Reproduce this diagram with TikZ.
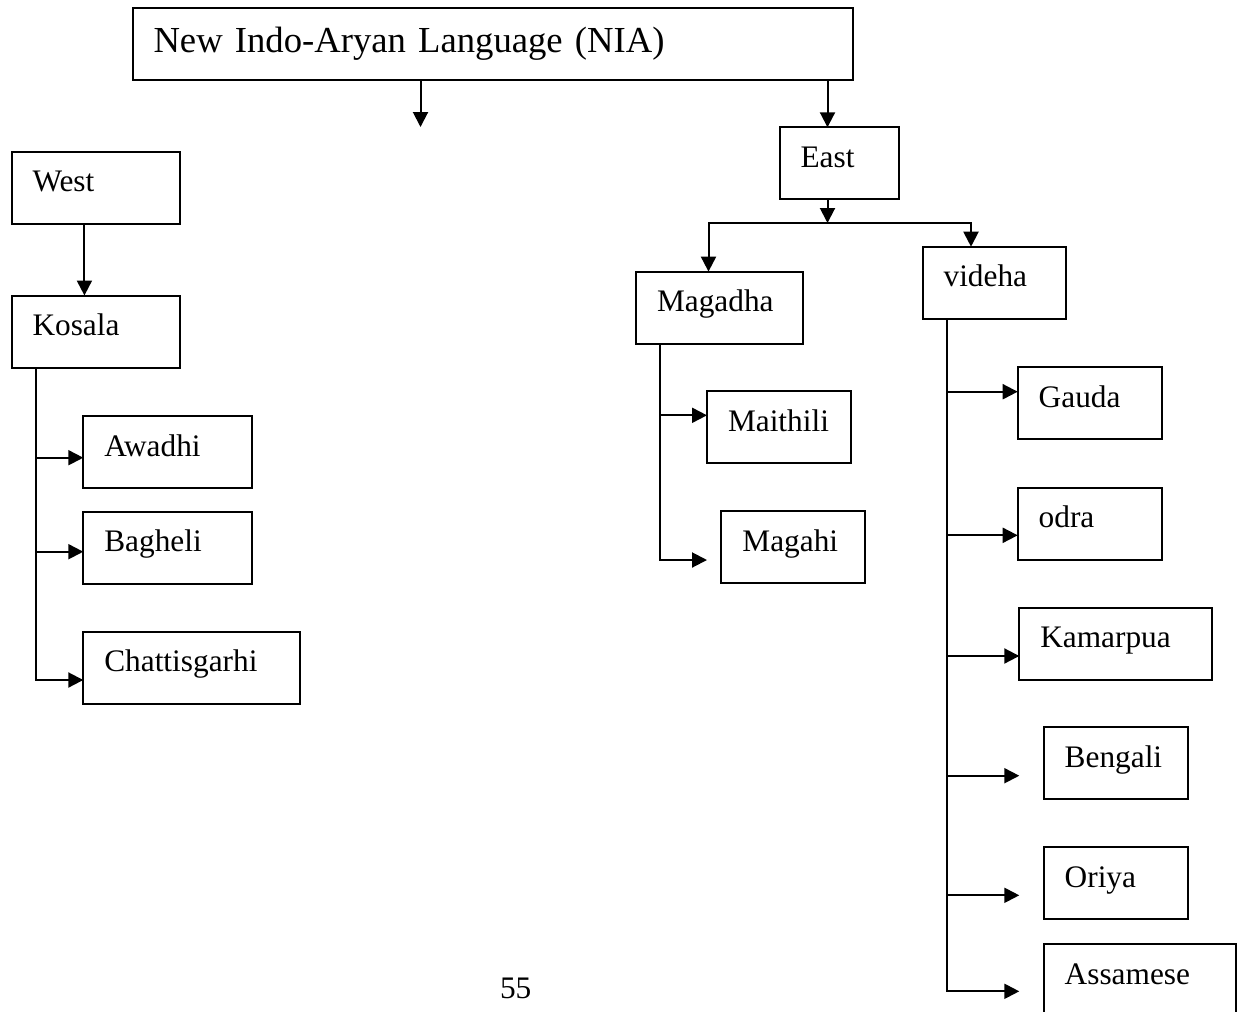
\documentclass[tikz,border=0pt]{standalone}
\usepackage{fontspec}
\setmainfont{Liberation Serif}
\usetikzlibrary{arrows.meta}

\tikzset{every picture/.style={line width=1.5pt}}
\tikzset{
  lang/.style={draw, anchor=north west, outer sep=0pt, inner xsep=15.75pt, inner ysep=0pt,
    minimum height=54pt, text width=#1, align=left, text height=18pt, text depth=12pt,
    font=\fontsize{23.5}{28}\selectfont},
  arr/.style={-{Triangle[length=11.25pt,width=11.25pt]}}
}

\begin{document}
\begin{tikzpicture}[x=0.75pt,y=0.75pt,yscale=-1,xscale=1]
\useasboundingbox (0,0) rectangle (1248,1011);

% Text Node
\node[lang=508.5pt, text height=22pt, text depth=8.8pt, font=\fontsize{27.5}{33}\selectfont] (nia) at (132.5,7.5) {New Indo-Aryan Language (NIA)};
% Text Node
\node[lang=94.7pt] (west) at (11.5,151.7) {West};
\node[lang=94.7pt] (kosala) at (11.5,295.5) {Kosala};
\node[lang=94.7pt] (awadhi) at (83.3,416) {Awadhi};
\node[lang=94.7pt] (bagheli) at (83.3,511.7) {Bagheli};
\node[lang=131pt] (chattis) at (83.3,631.7) {Chattisgarhi};
% Text Node
\node[lang=58.1pt] (east) at (779.5,127.3) {East};
\node[lang=94.1pt] (magadha) at (636,271.6) {Magadha};
\node[lang=76pt] (videha) at (922.6,246.7) {videha};
\node[lang=76.5pt] (maithili) at (707,391.3) {Maithili};
\node[lang=76.5pt] (magahi) at (721.4,511.3) {Magahi};
\node[lang=76.5pt] (gauda) at (1017.7,367.3) {Gauda};
\node[lang=76.5pt] (odra) at (1017.7,487.7) {odra};
\node[lang=113.25pt] (kamarpua) at (1019.3,607.7) {Kamarpua};
\node[lang=76.9pt] (bengali) at (1043.7,727.3) {Bengali};
\node[lang=76.9pt] (oriya) at (1043.7,847.3) {Oriya};
\node[lang=113pt] (assamese) at (1043.7,944) {Assamese};
% Text Node
\node[font=\fontsize{23.5}{28}\selectfont, anchor=base, inner sep=0pt] (pageno) at (515.7,998.3) {55};

% Connection
\coordinate (midend) at (420.5,127);
\coordinate (esplit) at (827.5,223);
\draw[arr] (nia.south -| midend) -- (midend);
\draw[arr] (nia.south -| esplit) -- (east.north -| esplit);
\draw[arr] (east.south -| esplit) -- (esplit);
\draw[arr] (esplit) -| (magadha.north -| 708.5,0);
\draw[arr] (esplit) -| (videha.north -| 971,0);
% Connection
\draw[arr] ([xshift=-8.4pt]west.south) -- ([xshift=-8.4pt]kosala.north);
\foreach \t/\y in {awadhi/457.7, bagheli/551.7, chattis/680}
  \draw[arr] (kosala.south -| 36,0) |- (\t.west |- 0,\y);
% Connection
\coordinate (magahitip) at (707,560);
\draw[arr] (magadha.south -| 660,0) |- (maithili.west |- 0,415.3);
\draw[arr] (magadha.south -| 660,0) |- (magahitip);
% Connection
\foreach \t/\y in {gauda/391.7, odra/535.3, kamarpua/656}
  \draw[arr] (videha.south -| 947,0) |- (\t.west |- 0,\y);
\foreach \t/\y in {bengali/775.7, oriya/895.3, assamese/991.3}
  \coordinate (\t tip) at (1019.3,\y);
\foreach \t in {bengali, oriya, assamese}
  \draw[arr] (videha.south -| 947,0) |- (\t tip);

\end{tikzpicture}
\end{document}
